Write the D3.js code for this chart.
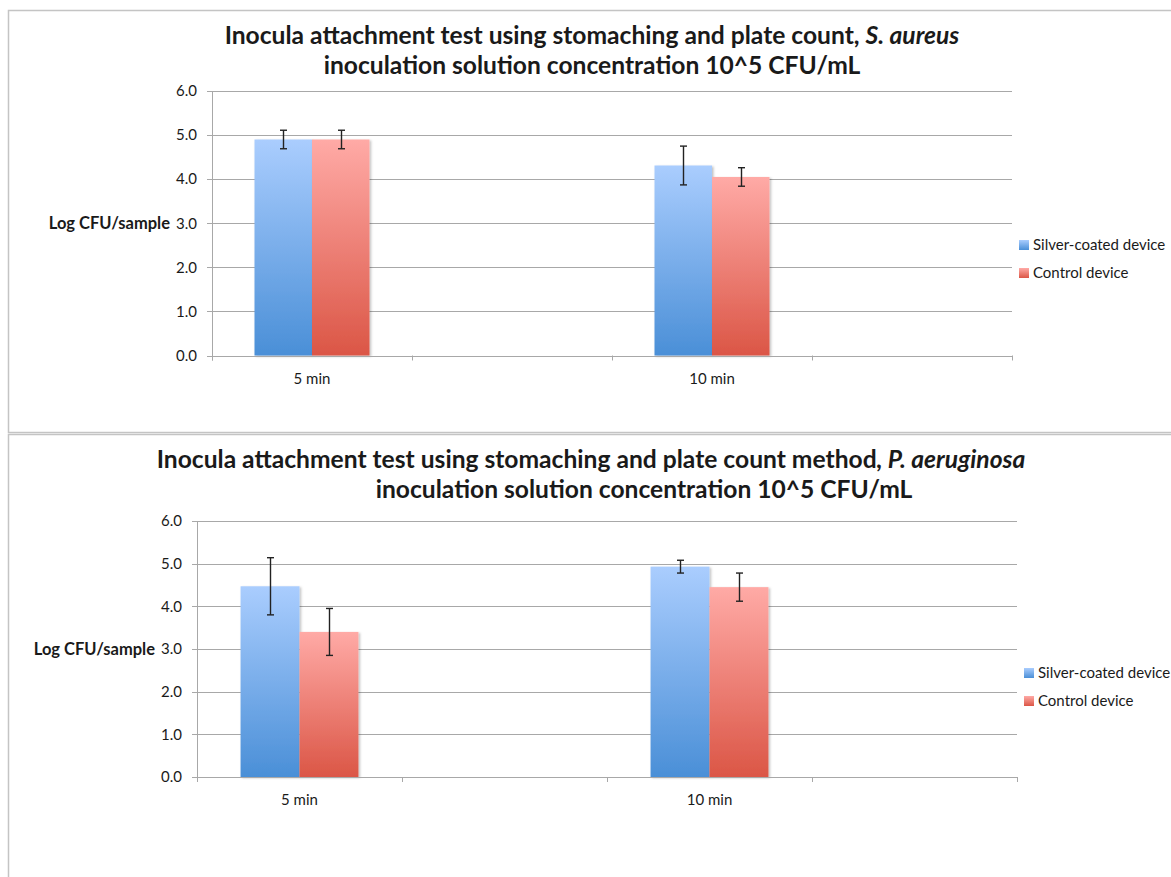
<!DOCTYPE html>
<html><head><meta charset="utf-8">
<script src="https://cdn.jsdelivr.net/npm/d3@7"></script>
<style>body{margin:0;background:#fff}svg{display:block}text{font-family:Lato,"Open Sans",sans-serif;fill:#1a1a1a}</style>
</head><body><svg id="c" width="1171" height="877"></svg>
<script>
// ---- data ----
const categories = ["5 min", "", "10 min", ""];
const seriesNames = ["Silver-coated device", "Control device"];
const yTicks = [0, 1, 2, 3, 4, 5, 6];
// chart 1: S. aureus
const aureusSilver = [4.90, null, 4.31, null];
const aureusControl = [4.90, null, 4.05, null];
const aureusSilverErr = [0.21, null, 0.44, null];
const aureusControlErr = [0.21, null, 0.21, null];
// chart 2: P. aeruginosa
const aeruSilver = [4.47, null, 4.93, null];
const aeruControl = [3.40, null, 4.45, null];
const aeruSilverErr = [0.67, null, 0.15, null];
const aeruControlErr = [0.55, null, 0.33, null];
const titles1 = [["Inocula attachment test using stomaching and plate count, ", "S. aureus"], ["inoculation solution concentration 10^5 CFU/mL", ""]];
const titles2 = [["Inocula attachment test using stomaching and plate count method", ", P. aeruginosa"], ["inoculation solution concentration 10^5 CFU/mL", ""]];

const svg = d3.select("#c");
const defs = svg.append("defs");
function grad(id, top, bot){
  const g = defs.append("linearGradient").attr("id", id).attr("x1",0).attr("y1",0).attr("x2",0).attr("y2",1);
  g.append("stop").attr("offset","0%").attr("stop-color",top);
  g.append("stop").attr("offset","100%").attr("stop-color",bot);
}
grad("gBlue", "#aacdfe", "#4a8fd7");
grad("gRed", "#ffaaa6", "#db5646");
const f = defs.append("filter").attr("id","sh").attr("x","-10%").attr("y","-10%").attr("width","130%").attr("height","120%");
f.append("feDropShadow").attr("dx",1.5).attr("dy",1).attr("stdDeviation",1.2).attr("flood-color","#000").attr("flood-opacity",0.25);
const fills = ["url(#gBlue)", "url(#gRed)"];

function chart(cfg){
  const g = svg.append("g");
  g.append("rect").attr("x",8.5).attr("y",cfg.frameTop+0.5).attr("width",1300).attr("height",cfg.frameH)
    .attr("fill","none").attr("stroke","#c4c4c4").attr("stroke-width",1.5);
  const y = d3.scaleLinear().domain([0,6]).range([cfg.bottom, cfg.top]);
  const x = d3.scaleBand().domain(d3.range(categories.length)).range([cfg.left, cfg.right]).padding(0);
  const x1 = d3.scaleBand().domain([0,1]).range([0, x.bandwidth()*0.575]).padding(0);
  const off = (x.bandwidth() - x1.range()[1]) / 2;
  // gridlines
  g.selectAll(".grid").data(yTicks).join("line")
    .attr("x1", cfg.left-5).attr("x2", cfg.right).attr("y1", d=>Math.round(y(d))+0.5).attr("y2", d=>Math.round(y(d))+0.5)
    .attr("stroke","#a8a8a8").attr("stroke-width",1);
  // y axis line
  g.append("line").attr("x1",cfg.left+0.5).attr("x2",cfg.left+0.5).attr("y1",cfg.top).attr("y2",cfg.bottom+5).attr("stroke","#a8a8a8");
  // y labels
  g.selectAll(".yl").data(yTicks).join("text")
    .attr("x", cfg.left-15).attr("y", d=>y(d)).attr("dy","0.35em").attr("text-anchor","end")
    .attr("font-size",15).text(d=>d3.format(".1f")(d));
  g.append("text").attr("x", cfg.ylabX).attr("y", y(3)).attr("dy","0.35em").attr("text-anchor","end")
    .attr("font-size",16.5).attr("font-weight","bold").text("Log CFU/sample");
  // x ticks at band edges
  const edges = d3.range(categories.length+1).map(i => i<categories.length ? x(i) : cfg.right);
  g.selectAll(".xt").data(edges).join("line")
    .attr("x1",d=>Math.round(d)+0.5).attr("x2",d=>Math.round(d)+0.5).attr("y1",cfg.bottom).attr("y2",cfg.bottom+5).attr("stroke","#a8a8a8");
  g.selectAll(".xl").data(categories).join("text")
    .attr("x",(d,i)=>x(i)+x.bandwidth()/2).attr("y",cfg.bottom+28).attr("text-anchor","middle").attr("font-size",15).text(d=>d);
  // bars
  const series = [cfg.silver, cfg.control];
  const errs = [cfg.silverErr, cfg.controlErr];
  series.forEach((vals, s) => {
    vals.forEach((v, i) => {
      if (v == null) return;
      const bx = x(i) + off + x1(s);
      g.append("rect").attr("x",bx).attr("y",y(v)).attr("width",x1.bandwidth()).attr("height",cfg.bottom - y(v))
        .attr("fill",fills[s]).attr("filter","url(#sh)");
    });
  });
  // axis baseline on top of bars
  g.append("line").attr("x1",cfg.left-5).attr("x2",cfg.right).attr("y1",Math.round(cfg.bottom)+0.5).attr("y2",Math.round(cfg.bottom)+0.5).attr("stroke","#a8a8a8");
  // error bars
  series.forEach((vals, s) => {
    vals.forEach((v, i) => {
      if (v == null) return;
      const e = errs[s][i];
      const cx = Math.round(x(i) + off + x1(s) + x1.bandwidth()/2) + 0.5;
      const yt = y(v+e), yb = y(v-e);
      g.append("line").attr("x1",cx).attr("x2",cx).attr("y1",yt).attr("y2",yb).attr("stroke","#222").attr("stroke-width",1.4);
      [yt,yb].forEach(yy => g.append("line").attr("x1",cx-3.5).attr("x2",cx+3.5).attr("y1",yy).attr("y2",yy).attr("stroke","#222").attr("stroke-width",1.4));
    });
  });
  // titles
  cfg.titles.forEach((t, li) => {
    const tx = g.append("text").attr("x", cfg.titleX[li]).attr("y", cfg.titleY[li]).attr("text-anchor","middle")
      .attr("font-size", cfg.titleSize).attr("font-weight","bold");
    tx.append("tspan").text(t[0]);
    if (t[1]) tx.append("tspan").attr("font-style","italic").text(t[1]);
  });
  // legend
  seriesNames.forEach((n, s) => {
    const ly = cfg.legY + s*28;
    g.append("rect").attr("x",cfg.legX).attr("y",ly).attr("width",10).attr("height",10).attr("fill",fills[s]);
    g.append("text").attr("x",cfg.legX+14).attr("y",ly+5).attr("dy","0.35em").attr("font-size",15).text(n);
  });
}

// fit title size to reference width of chart 1's first line
const probe = svg.append("text").attr("font-size",20).attr("font-weight","bold");
probe.append("tspan").text(titles1[0][0]); probe.append("tspan").attr("font-style","italic").text(titles1[0][1]);
const tSize = 20 * 735 / probe.node().getBBox().width;
probe.remove();

chart({frameTop:10, frameH:422, left:212, right:1012, top:91, bottom:355.5, ylabX:170,
  silver:aureusSilver, control:aureusControl, silverErr:aureusSilverErr, controlErr:aureusControlErr,
  titles:titles1, titleX:[592,592], titleY:[44,74], titleSize:tSize, legX:1019, legY:240});
chart({frameTop:434, frameH:500, left:197, right:1017, top:521, bottom:777, ylabX:155,
  silver:aeruSilver, control:aeruControl, silverErr:aeruSilverErr, controlErr:aeruControlErr,
  titles:titles2, titleX:[591,644], titleY:[468,498], titleSize:tSize, legX:1024, legY:668});
</script></body></html>
